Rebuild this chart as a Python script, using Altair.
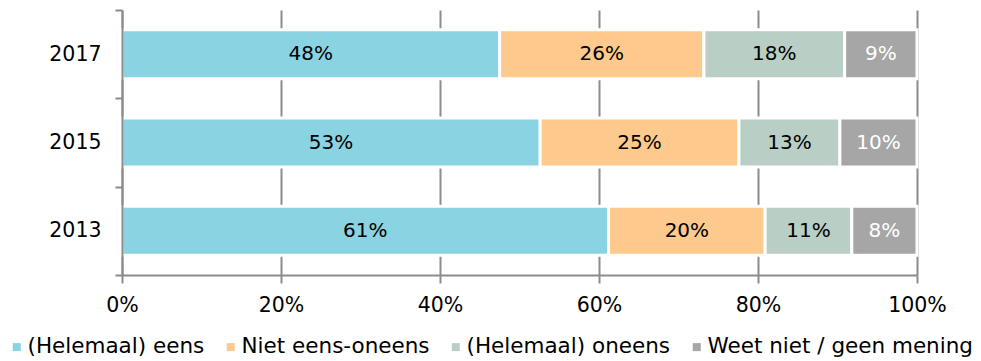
import altair as alt
import pandas as pd

years = ["2017", "2015", "2013"]
categories = ["(Helemaal) eens", "Niet eens-oneens", "(Helemaal) oneens", "Weet niet / geen mening"]
colors = ["#89D3E3", "#FDC98C", "#B9CEC4", "#A6A6A6"]

share_2017 = [47.5, 25.7, 17.7, 9.1]
share_2015 = [52.6, 25.0, 12.7, 9.7]
share_2013 = [61.2, 19.7, 10.9, 8.2]

labels_2017 = ["48%", "26%", "18%", "9%"]
labels_2015 = ["53%", "25%", "13%", "10%"]
labels_2013 = ["61%", "20%", "11%", "8%"]

x_ticks = [0, 20, 40, 60, 80, 100]

rows = []
for yr, shares, labs in [("2017", share_2017, labels_2017),
                         ("2015", share_2015, labels_2015),
                         ("2013", share_2013, labels_2013)]:
    for i, (cat, v, lab) in enumerate(zip(categories, shares, labs)):
        rows.append({"year": yr, "cat": cat, "order": i + 1, "value": v, "label": lab})
df = pd.DataFrame(rows)

FONT = "DejaVu Sans"
GRAY = "#8C8C8C"

base = alt.Chart(df).transform_stack(
    stack="value", groupby=["year"], as_=["x0", "x1"], sort=[alt.SortField("order")]
).transform_calculate(mid="(datum.x0 + datum.x1) / 2")

y_enc = alt.Y(
    "year:N", sort=years, title=None,
    scale=alt.Scale(paddingInner=0, paddingOuter=0),
    axis=alt.Axis(tickBand="extent", tickSize=7, labelPadding=14, grid=False, zindex=1,
                  domainColor=GRAY, domainWidth=2, tickColor=GRAY, tickWidth=2,
                  labelFont=FONT, labelFontSize=20.5, labelColor="#000000"),
)

bars = base.mark_bar(stroke="white", strokeWidth=3, size=49).encode(
    x=alt.X("x0:Q", title=None,
            scale=alt.Scale(domain=[0, 100], nice=False),
            axis=alt.Axis(values=x_ticks, labelExpr="datum.value + '%'", grid=True,
                          labelFlush=False, zindex=0,
                          gridColor=GRAY, gridWidth=2, tickSize=8, labelPadding=12,
                          domainColor=GRAY, domainWidth=2, tickColor=GRAY, tickWidth=2,
                          labelFont=FONT, labelFontSize=20.5, labelColor="#000000")),
    x2="x1:Q",
    y=y_enc,
    color=alt.Color("cat:N", scale=alt.Scale(domain=categories, range=colors),
                    legend=alt.Legend(title=None, orient="none", legendX=-116, legendY=326,
                                      direction="horizontal", columns=4, symbolType="square",
                                      symbolSize=64, symbolStrokeWidth=0, labelOffset=0,
                                      labelFont=FONT, labelFontSize=21.5, labelColor="#000000",
                                      labelLimit=400, columnPadding=15, padding=0)),
    order=alt.Order("order:Q"),
)

texts = base.mark_text(font=FONT, fontSize=20, baseline="middle", align="center").encode(
    x=alt.X("mid:Q"),
    y=alt.Y("year:N", sort=years),
    text="label:N",
    color=alt.condition("datum.order == 4", alt.value("#FFFFFF"), alt.value("#000000")),
)

chart = alt.layer(bars, texts).properties(
    width=795, height=265,
    autosize=alt.AutoSizeParams(type="none"),
    padding={"left": 114, "top": 2, "right": 56, "bottom": 86},
).configure_view(stroke=None)

chart.save("out.html", embed_options={"renderer": "svg", "actions": False})
